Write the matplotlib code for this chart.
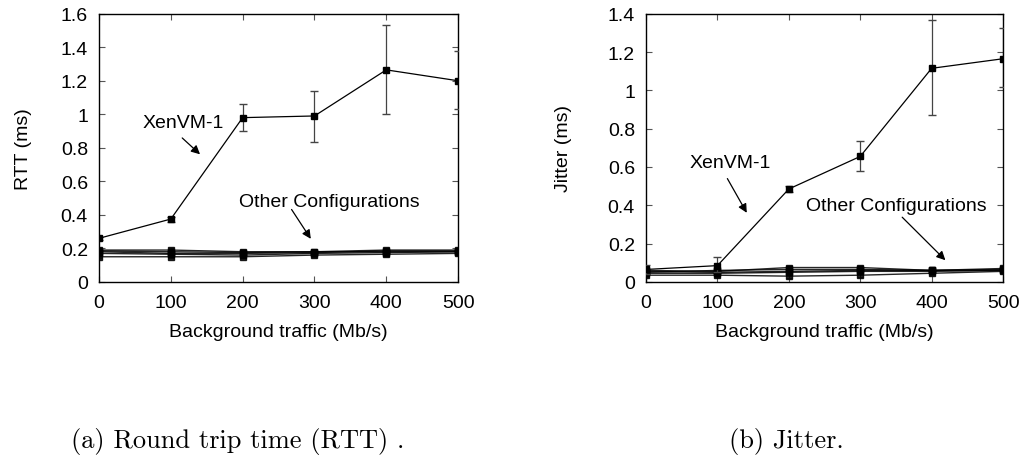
import matplotlib
matplotlib.use("Agg")
import matplotlib.pyplot as plt

plt.rcParams["font.family"] = ["Liberation Sans", "DejaVu Sans"]
plt.rcParams["font.size"] = 14

traffic = [0, 100, 200, 300, 400, 500]

# RTT (ms)
rtt_xen = [0.26, 0.375, 0.98, 0.99, 1.265, 1.20]
rtt_xen_lo = [0.25, 0.36, 0.90, 0.835, 1.00, 1.03]
rtt_xen_hi = [0.27, 0.39, 1.06, 1.14, 1.53, 1.38]
rtt_others = [
    [0.19, 0.19, 0.18, 0.18, 0.19, 0.19],
    [0.18, 0.17, 0.17, 0.175, 0.185, 0.185],
    [0.185, 0.18, 0.175, 0.18, 0.18, 0.18],
    [0.15, 0.15, 0.15, 0.16, 0.165, 0.17],
    [0.17, 0.165, 0.16, 0.17, 0.175, 0.18],
]

# Jitter (ms)
jit_xen = [0.065, 0.085, 0.485, 0.655, 1.115, 1.165]
jit_xen_lo = [0.04, 0.05, 0.47, 0.58, 0.87, 1.02]
jit_xen_hi = [0.09, 0.13, 0.50, 0.735, 1.365, 1.325]
jit_others = [
    [0.06, 0.055, 0.075, 0.075, 0.06, 0.07],
    [0.05, 0.06, 0.065, 0.065, 0.06, 0.065],
    [0.045, 0.045, 0.05, 0.055, 0.055, 0.06],
    [0.035, 0.035, 0.03, 0.035, 0.045, 0.055],
    [0.055, 0.05, 0.055, 0.06, 0.06, 0.06],
]


def draw_panel(ax, xen, lo, hi, others, ymax, ylabel, xen_txt, xen_arrow, oth_txt, oth_arrow):
    """One gnuplot-like panel"""
    for vals in others:
        ax.errorbar(traffic, vals, yerr=0.01, color="black", lw=1.0,
                    marker="s", ms=4, ecolor="#444444", elinewidth=0.8,
                    capsize=2.5, alpha=0.85)
    yerr = [[v - l for v, l in zip(xen, lo)], [h - v for v, h in zip(xen, hi)]]
    ax.errorbar(traffic, xen, yerr=yerr, color="black", lw=0.9, marker="s",
                ms=4, ecolor="#444444", elinewidth=0.9, capsize=3, zorder=5)
    ax.set_xlim(0, 500)
    ax.set_ylim(0, ymax)
    ax.set_xticks(traffic)
    ax.set_xlabel("Background traffic (Mb/s)", labelpad=8)
    ax.set_ylabel(ylabel)
    ax.tick_params(direction="in", top=True, right=True, length=4,
                   width=0.8, color="#555555", labelsize=14, pad=9)
    ax.tick_params(axis="y", pad=8)
    for s in ax.spines.values():
        s.set_linewidth(1.0)
    ax.annotate("XenVM-1", xy=xen_arrow[1], xytext=xen_txt, ha="center",
                va="center", fontsize=14)
    ax.annotate("", xy=xen_arrow[1], xytext=xen_arrow[0],
                arrowprops=dict(arrowstyle="-|>", color="black", lw=0.9,
                                mutation_scale=13))
    ax.annotate("Other Configurations", xy=oth_arrow[1], xytext=oth_txt,
                ha="center", va="center", fontsize=14)
    ax.annotate("", xy=oth_arrow[1], xytext=oth_arrow[0],
                arrowprops=dict(arrowstyle="-|>", color="black", lw=0.9,
                                mutation_scale=13))


fig = plt.figure(figsize=(10.23, 4.6), dpi=100)
ax1 = fig.add_axes([0.0968, 0.385, 0.351, 0.583])
ax2 = fig.add_axes([0.6315, 0.385, 0.349, 0.583])

draw_panel(ax1, rtt_xen, rtt_xen_lo, rtt_xen_hi, rtt_others, 1.6, "RTT (ms)",
           (117, 0.953), ((113, 0.87), (143.5, 0.75)),
           (320, 0.482), ((266, 0.446), (297, 0.243)))
draw_panel(ax2, jit_xen, jit_xen_lo, jit_xen_hi, jit_others, 1.4, "Jitter (ms)",
           (118, 0.625), ((112, 0.552), (143, 0.348)),
           (350, 0.40), ((356, 0.348), (422, 0.103)))
ax1.set_yticks([0, 0.2, 0.4, 0.6, 0.8, 1.0, 1.2, 1.4, 1.6])
ax1.set_yticklabels(["0", "0.2", "0.4", "0.6", "0.8", "1", "1.2", "1.4", "1.6"])
ax2.set_yticks([0, 0.2, 0.4, 0.6, 0.8, 1.0, 1.2, 1.4])
ax2.set_yticklabels(["0", "0.2", "0.4", "0.6", "0.8", "1", "1.2", "1.4"])
ax1.yaxis.set_label_coords(-0.187, 0.5)
ax2.yaxis.set_label_coords(-0.207, 0.5)

fig.text(238 / 1023, 1 - 442 / 460, "(a) Round trip time (RTT) .", ha="center",
         va="center", fontsize=19, family=["cmr10", "DejaVu Serif"])
fig.text(786 / 1023, 1 - 442 / 460, "(b) Jitter.", ha="center", va="center",
         fontsize=19, family=["cmr10", "DejaVu Serif"])

fig.savefig("out.png", dpi=100)
